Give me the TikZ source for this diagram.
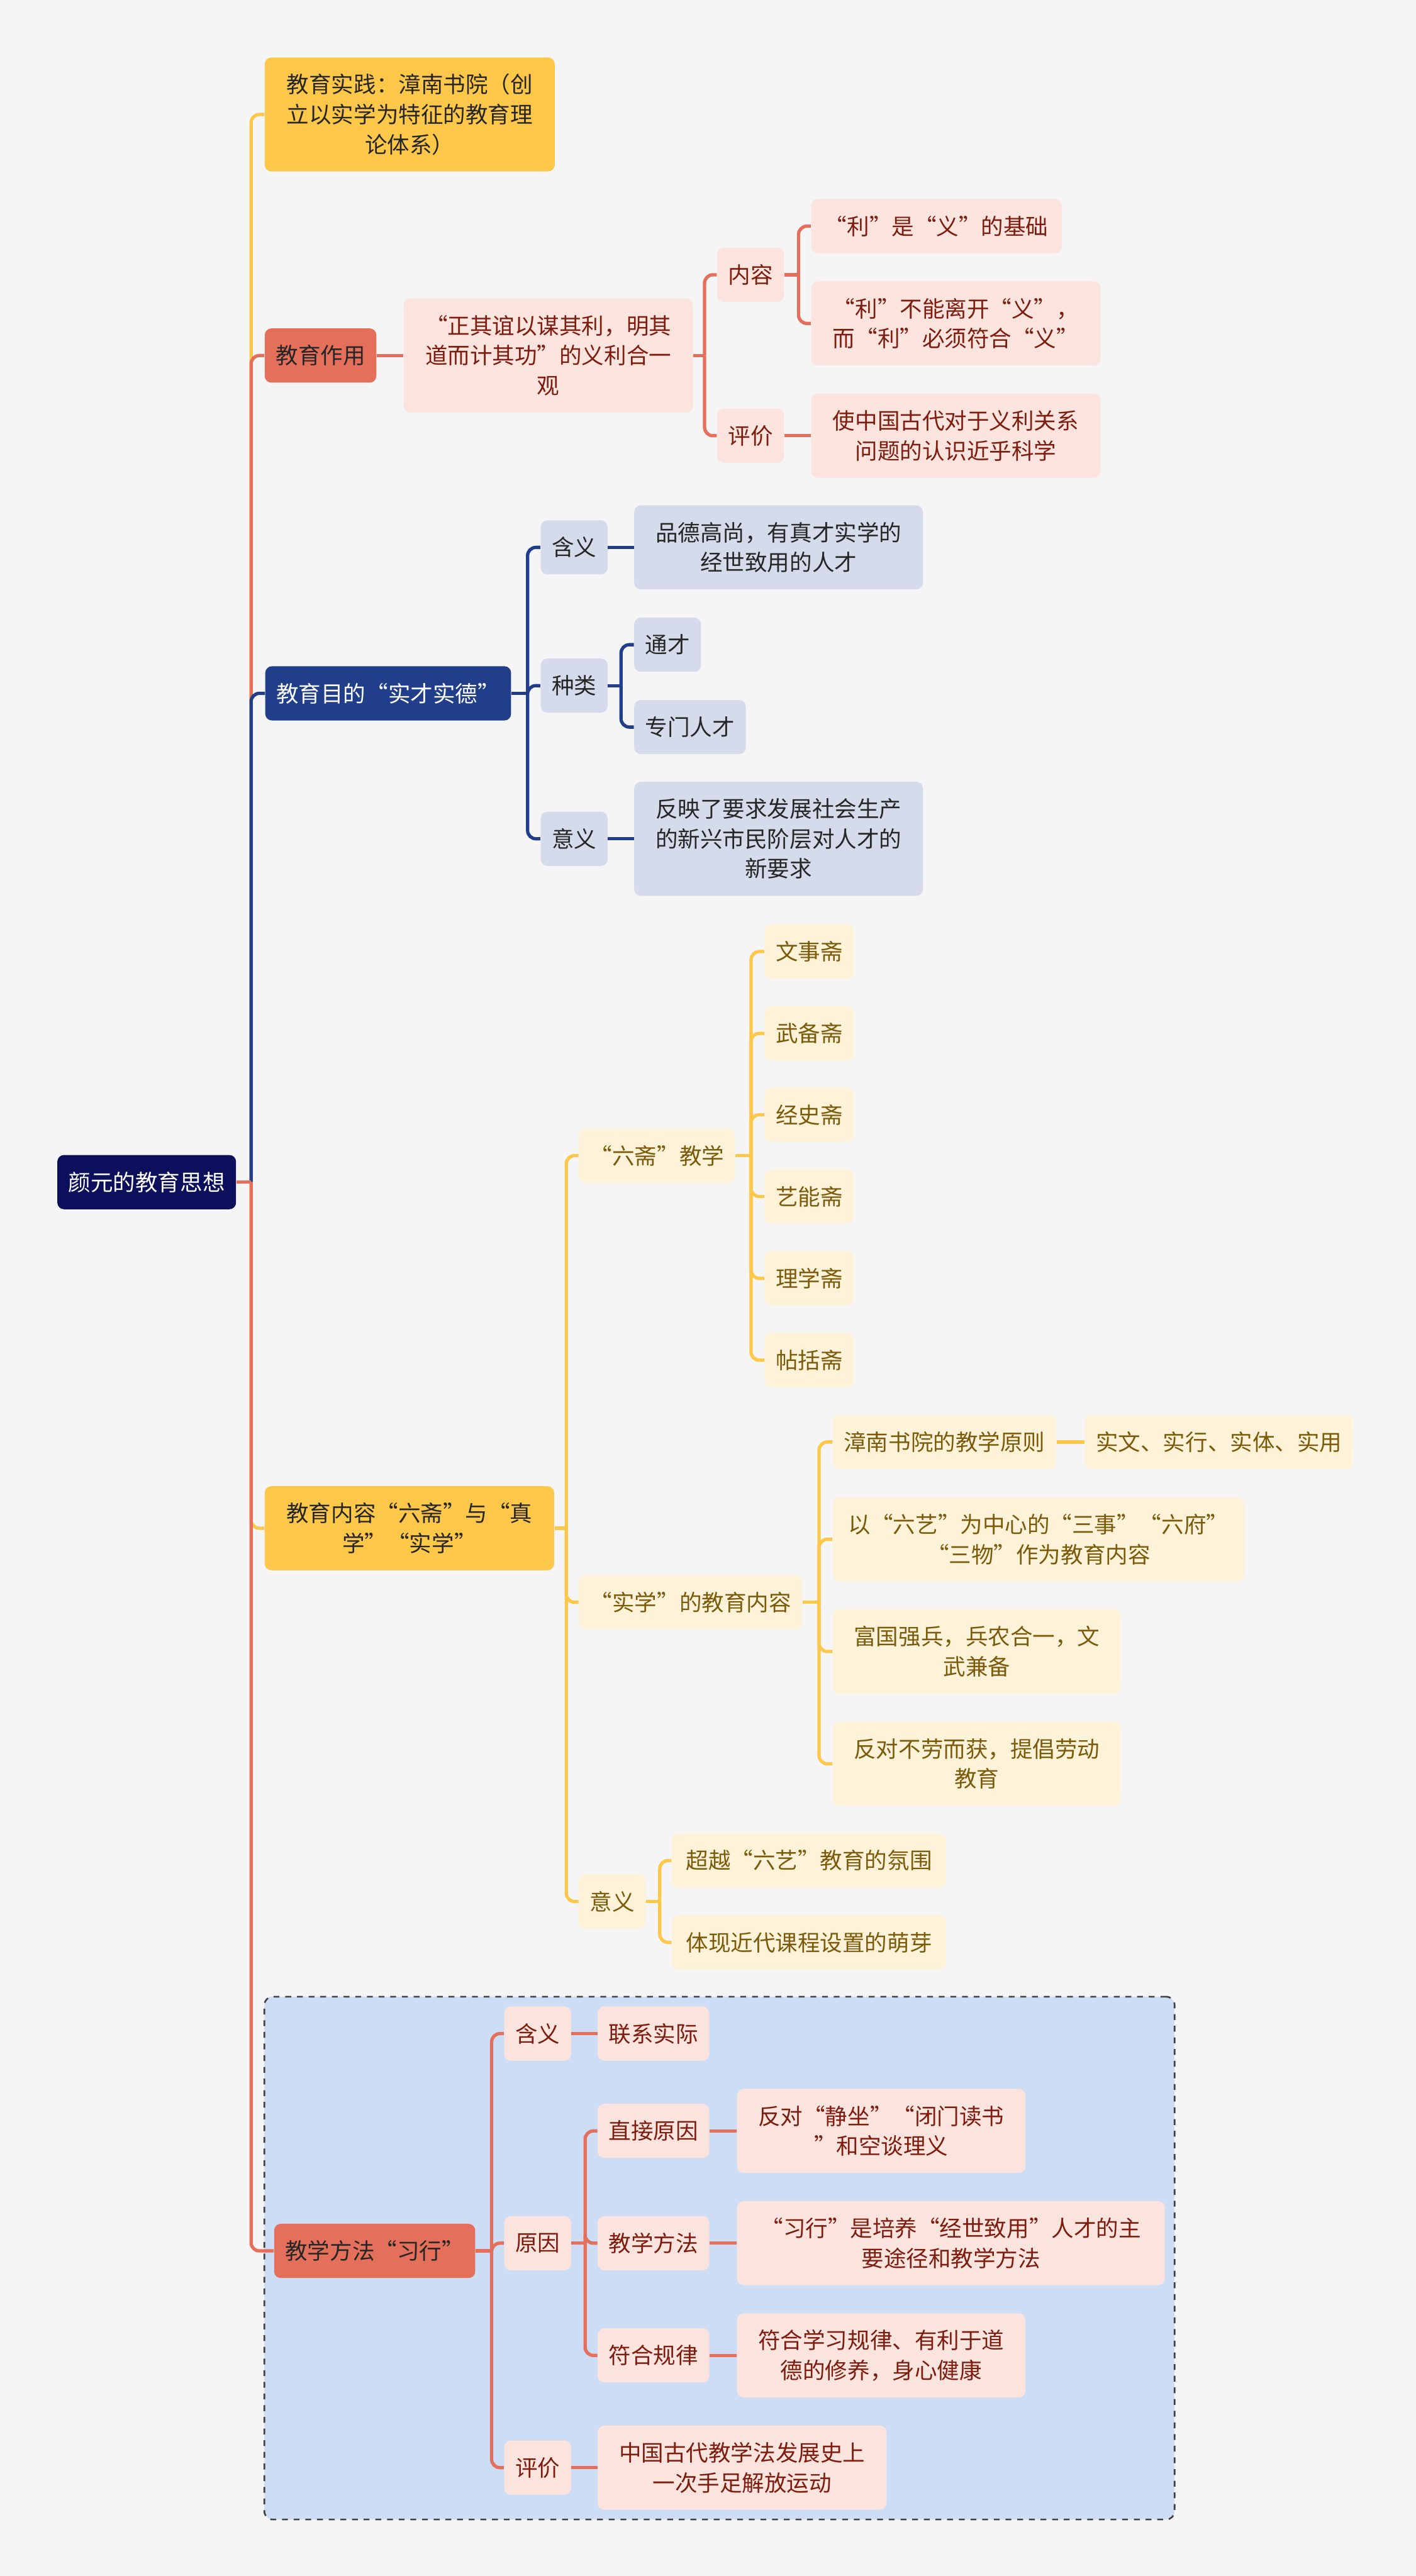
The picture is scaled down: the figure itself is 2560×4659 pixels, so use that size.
\documentclass[tikz,border=0pt]{standalone}
\usepackage{fontspec}
\newfontfamily\cjk{Noto Sans CJK SC}
\usepackage{xcolor}
\usepackage{tikz}
\usetikzlibrary{fit,backgrounds}
\definecolor{bgc}{HTML}{F5F5F5}
\definecolor{rootc}{HTML}{0B0F5C}
\definecolor{yelm}{HTML}{FDC84A}
\definecolor{yelsoft}{HTML}{FEF3D8}
\definecolor{yeltxt}{HTML}{7B5A0B}
\definecolor{redm}{HTML}{E46F5B}
\definecolor{redsoft}{HTML}{FBE3DE}
\definecolor{redtxt}{HTML}{7D1D0F}
\definecolor{navym}{HTML}{213E8A}
\definecolor{navysoft}{HTML}{D5DBEA}
\definecolor{boxblue}{HTML}{CDDDF5}
\begin{document}
\begin{tikzpicture}[
  x=0.01cm,y=-0.01cm,
  box/.style={rounded corners=0.12cm,anchor=west,align=center,inner xsep=0.2cm,inner ysep=0.05cm,minimum height=0.98cm,font=\cjk\fontsize{11.5pt}{15.4pt}\selectfont},
  two/.style={minimum height=1.52cm},
  three/.style={minimum height=2.06cm},
  rootbox/.style={box,fill=rootc,text=white},
  ymain/.style={box,fill=yelm,text=black!85},
  rmain/.style={box,fill=redm,text=black!85},
  nmain/.style={box,fill=navym,text=white},
  ysub/.style={box,fill=yelsoft,text=yeltxt},
  rsub/.style={box,fill=redsoft,text=redtxt},
  nsub/.style={box,fill=navysoft,text=black!85},
  yline/.style={draw=yelm,line width=0.06cm,rounded corners=0.15cm},
  rline/.style={draw=redm,line width=0.06cm,rounded corners=0.15cm},
  nline/.style={draw=navym,line width=0.06cm,rounded corners=0.15cm}
]
\useasboundingbox (0,0) rectangle (2560,4659);
\coordinate (trunk) at (454,0);
\node[rootbox] (root) at (103,2138) {颜元的教育思想};
% 教育实践 / 教育作用
\node[ymain,three,text width=4.84cm] (jsj) at (478,207) {教育实践：漳南书院（创\\立以实学为特征的教育理\\论体系）};
\node[rmain] (zy) at (478,643) {教育作用};
\node[rsub,three,text width=4.83cm] (zqy) at (729,643) {“正其谊以谋其利，明其\\道而计其功”的义利合一\\观};
\node[rsub] (nr) at (1296,497) {内容};
\node[rsub] (pj) at (1296,788) {评价};
\node[rsub,minimum width=4.53cm] (lsy) at (1466,409) {“利”是“义”的基础};
\node[rsub,two,text width=4.83cm] (lbn) at (1466,585) {“利”不能离开“义”，\\而“利”必须符合“义”};
\node[rsub,two,text width=4.83cm] (szg) at (1466,788) {使中国古代对于义利关系\\问题的认识近乎科学};
% 教育目的
\node[nmain] (md) at (479,1254) {教育目的“实才实德”};
\node[nsub] (hy) at (977,990) {含义};
\node[nsub] (zl) at (977,1240) {种类};
\node[nsub] (yy) at (977,1517) {意义};
\node[nsub,two,text width=4.82cm] (pd) at (1146,990) {品德高尚，有真才实学的\\经世致用的人才};
\node[nsub] (tc) at (1146,1166) {通才};
\node[nsub] (zm) at (1146,1315) {专门人才};
\node[nsub,three,text width=4.82cm] (fy) at (1146,1517) {反映了要求发展社会生产\\的新兴市民阶层对人才的\\新要求};
% 教育内容
\node[ymain,two,text width=4.83cm] (nrm) at (478,2764) {教育内容“六斋”与“真\\学”“实学”};
\node[ysub] (lz) at (1046,2090) {“六斋”教学};
\node[ysub] (wsz) at (1382,1721) {文事斋};
\node[ysub] (wbz) at (1382,1869) {武备斋};
\node[ysub] (jsz) at (1382,2016) {经史斋};
\node[ysub] (ynz) at (1382,2164) {艺能斋};
\node[ysub] (lxz) at (1382,2312) {理学斋};
\node[ysub] (tkz) at (1382,2460) {帖括斋};
\node[ysub] (sx) at (1046,2898) {“实学”的教育内容};
\node[ysub] (zn) at (1505,2608) {漳南书院的教学原则};
\node[ysub] (sw) at (1961,2608) {实文、实行、实体、实用};
\node[ysub,two,text width=7.04cm] (ly) at (1505,2784) {以“六艺”为中心的“三事”“六府”\\“三物”作为教育内容};
\node[ysub,two,text width=4.81cm] (fg) at (1505,2987) {富国强兵，兵农合一，文\\武兼备};
\node[ysub,two,text width=4.81cm] (fd) at (1505,3190) {反对不劳而获，提倡劳动\\教育};
\node[ysub] (yyz) at (1046,3439) {意义};
\node[ysub,minimum width=4.96cm] (cy) at (1214,3365) {超越“六艺”教育的氛围};
\node[ysub,minimum width=4.96cm] (tx) at (1214,3513) {体现近代课程设置的萌芽};
% 教学方法
\node[rmain] (xx) at (495,4071) {教学方法“习行”};
\node[rsub] (hy2) at (911,3678) {含义};
\node[rsub] (yy2) at (911,4057) {原因};
\node[rsub] (pj2) at (911,4463) {评价};
\node[rsub] (lx) at (1080,3678) {联系实际};
\node[rsub] (zj) at (1080,3854) {直接原因};
\node[rsub] (jf) at (1080,4057) {教学方法};
\node[rsub] (fh) at (1080,4260) {符合规律};
\node[rsub,two,text width=4.81cm] (fdj) at (1332,3854) {反对“静坐”“闭门读书\\”和空谈理义};
\node[rsub,two,text width=7.33cm] (xxs) at (1332,4057) {“习行”是培养“经世致用”人才的主\\要途径和教学方法};
\node[rsub,two,text width=4.81cm] (fhx) at (1332,4260) {符合学习规律、有利于道\\德的修养，身心健康};
\node[rsub,two,text width=4.82cm] (zg) at (1080,4463) {中国古代教学法发展史上\\一次手足解放运动};
\begin{scope}[on background layer]
\fill[bgc] (0,0) rectangle (2560,4659);
\node[draw=black!75,dashed,line width=0.03cm,fill=boxblue,rounded corners=0.15cm,inner sep=0.17cm,fit=(xx)(hy2)(xxs)(zg)] (xxframe) {};
\end{scope}
\draw[yline] (trunk |- root.east) |- (jsj.west);
\draw[rline] (trunk |- root.east) |- (zy.west);
\draw[nline] (trunk |- root.east) |- (md.west);
\draw[yline] (trunk |- root.east) |- (nrm.west);
\draw[rline] (trunk |- root.east) |- (xx.west);
\draw[rline] (root.east) -- (trunk |- root.east);
\draw[rline] (zy) -- (zqy);
\draw[rline] (zqy.east) -- ([xshift=-0.22cm]nr.west |- zqy.east);
\foreach \c in {nr,pj} \draw[rline] ([xshift=-0.22cm]\c.west |- zqy.east) |- (\c.west);
\draw[rline] (nr.east) -- ([xshift=-0.22cm]lsy.west |- nr.east);
\foreach \c in {lsy,lbn} \draw[rline] ([xshift=-0.22cm]\c.west |- nr.east) |- (\c.west);
\draw[rline] (pj) -- (szg);
\draw[nline] (md.east) -- ([xshift=-0.23cm]hy.west |- md.east);
\foreach \c in {hy,zl,yy} \draw[nline] ([xshift=-0.23cm]\c.west |- md.east) |- (\c.west);
\draw[nline] (hy) -- (pd);
\draw[nline] (zl.east) -- ([xshift=-0.23cm]tc.west |- zl.east);
\foreach \c in {tc,zm} \draw[nline] ([xshift=-0.23cm]\c.west |- zl.east) |- (\c.west);
\draw[nline] (yy) -- (fy);
\draw[yline] (nrm.east) -- ([xshift=-0.22cm]lz.west |- nrm.east);
\foreach \c in {lz,sx,yyz} \draw[yline] ([xshift=-0.22cm]\c.west |- nrm.east) |- (\c.west);
\draw[yline] (lz.east) -- ([xshift=-0.24cm]wsz.west |- lz.east);
\foreach \c in {wsz,wbz,jsz,ynz,lxz,tkz} \draw[yline] ([xshift=-0.24cm]\c.west |- lz.east) |- (\c.west);
\draw[yline] (sx.east) -- ([xshift=-0.24cm]zn.west |- sx.east);
\foreach \c in {zn,ly,fg,fd} \draw[yline] ([xshift=-0.24cm]\c.west |- sx.east) |- (\c.west);
\draw[yline] (zn) -- (sw);
\draw[yline] (yyz.east) -- ([xshift=-0.21cm]cy.west |- yyz.east);
\foreach \c in {cy,tx} \draw[yline] ([xshift=-0.21cm]\c.west |- yyz.east) |- (\c.west);
\draw[rline] (xx.east) -- ([xshift=-0.22cm]hy2.west |- xx.east);
\foreach \c in {hy2,yy2,pj2} \draw[rline] ([xshift=-0.22cm]\c.west |- xx.east) |- (\c.west);
\draw[rline] (hy2) -- (lx);
\draw[rline] (yy2.east) -- ([xshift=-0.22cm]zj.west |- yy2.east);
\foreach \c in {zj,jf,fh} \draw[rline] ([xshift=-0.22cm]\c.west |- yy2.east) |- (\c.west);
\draw[rline] (zj) -- (fdj); \draw[rline] (jf) -- (xxs); \draw[rline] (fh) -- (fhx);
\draw[rline] (pj2) -- (zg);
\end{tikzpicture}
\end{document}
